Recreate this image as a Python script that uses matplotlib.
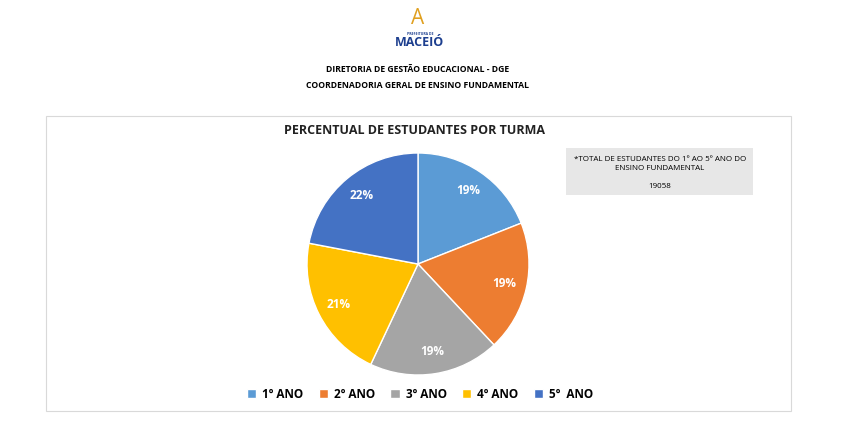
import matplotlib.pyplot as plt
from matplotlib.patches import Rectangle

plt.rcParams["font.family"] = "Open Sans"

categories = ["1º ANO", "2º ANO", "3º ANO", "4º ANO", "5º  ANO"]
shares = [19, 19, 19, 21, 22]
colors = ["#5b9bd5", "#ed7d31", "#a5a5a5", "#ffc000", "#4472c4"]
total_students = 19058

W, H = 845, 440
fig = plt.figure(figsize=(W / 100, H / 100), dpi=100)
fig.patch.set_facecolor("white")


def fx(px):
    return px / W


def fy(py):
    return 1 - py / H


# header
fig.text(fx(420), fy(43), "MACEIÓ", ha="center", va="center", fontsize=9,
         fontweight="bold", color="#1d3f8f")
fig.text(fx(420), fy(34), "PREFEITURA DE", ha="center", va="center", fontsize=2.5,
         fontweight="bold", color="#1d3f8f")
fig.text(fx(418), fy(18), "A", ha="center", va="center", fontsize=15,
         color="#e0a020")
fig.text(fx(418), fy(70), "DIRETORIA DE GESTÃO EDUCACIONAL - DGE", ha="center",
         va="center", fontsize=6.2, fontweight="bold")
fig.text(fx(418), fy(86), "COORDENADORIA GERAL DE ENSINO FUNDAMENTAL", ha="center",
         va="center", fontsize=6.2, fontweight="bold")

# chart frame
fig.patches.append(Rectangle((fx(46), fy(411)), fx(745), 295 / H, transform=fig.transFigure,
                             fill=False, edgecolor="#d9d9d9", lw=0.8))
fig.text(fx(415), fy(131), "PERCENTUAL DE ESTUDANTES POR TURMA", ha="center",
         va="center", fontsize=9, fontweight="bold", color="#222222")

# info box
fig.patches.append(Rectangle((fx(566), fy(195)), fx(187), 47 / H, transform=fig.transFigure,
                             facecolor="#e7e7e7", edgecolor="none"))
fig.text(fx(660), fy(164), "*TOTAL DE ESTUDANTES DO 1º AO 5º ANO DO\nENSINO FUNDAMENTAL",
         ha="center", va="center", fontsize=5.8, linespacing=1.35)
fig.text(fx(660), fy(186), str(total_students), ha="center", va="center", fontsize=5.8)

# pie
r = 111
ax = fig.add_axes([fx(418 - r), fy(264 + r), fx(2 * r), 2 * r / H])
wedges, texts, autotexts = ax.pie(shares, colors=colors, startangle=90, counterclock=False,
                                  autopct="%d%%", pctdistance=0.8,
                                  wedgeprops=dict(edgecolor="white", linewidth=1))
for t in autotexts:
    t.set_color("white")
    t.set_fontsize(8.5)
    t.set_fontweight("bold")
ax.set_xlim(-1, 1)
ax.set_ylim(-1, 1)
ax.set_aspect("equal")

fig.legend(wedges, categories, loc="center", bbox_to_anchor=(fx(420), fy(394)), ncol=5,
           frameon=False, handlelength=0.8, handleheight=0.8,
           columnspacing=1.3, handletextpad=0.5,
           prop={"weight": "bold", "size": 8.5})

fig.savefig("out.png", dpi=100)
